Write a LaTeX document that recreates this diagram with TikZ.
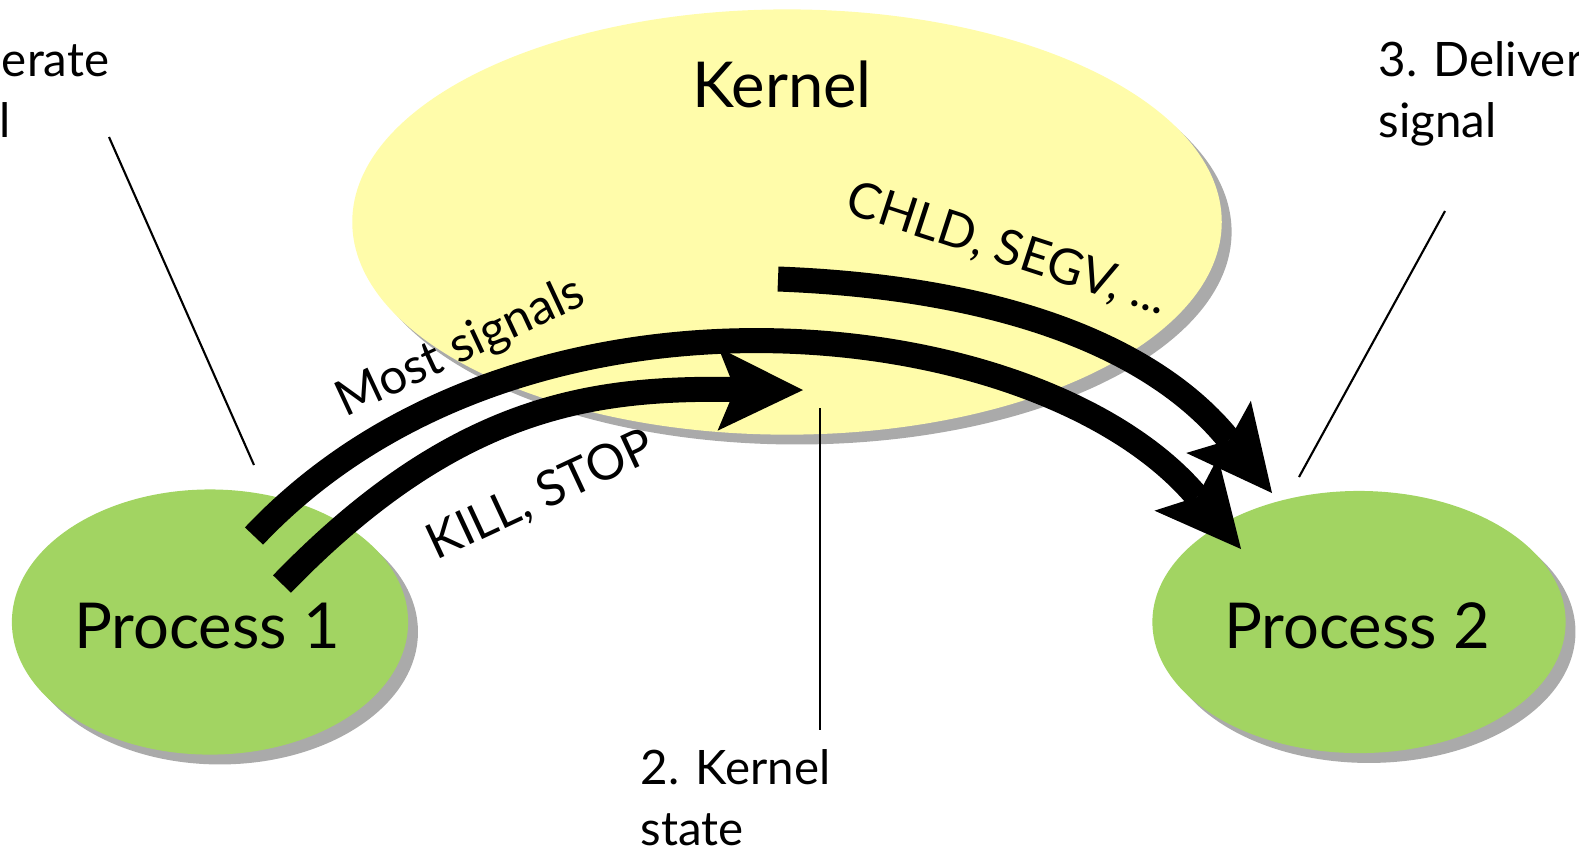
\documentclass[tikz,border=0pt]{standalone}
\usepackage{fontspec}
\setmainfont{Lato}
\usepackage{tikz}
\usetikzlibrary{arrows.meta,shapes.geometric,shadows}
\usepackage{xcolor}

\definecolor{kernelyellow}{RGB}{255,252,170}
\definecolor{procgreen}{RGB}{162,212,98}
\definecolor{shadowgray}{RGB}{170,170,170}

\tikzset{
  blob/.style={ellipse, inner sep=0pt,
    general shadow={fill=shadowgray, shadow xshift=2.8pt, shadow yshift=-2.8pt}},
  bigtext/.style={font=\fontsize{18}{22}\selectfont, inner sep=0pt},
  smalltext/.style={font=\fontsize{13.5}{17.4}\selectfont, inner sep=0pt, align=left},
  edgetext/.style={font=\fontsize{14}{17}\selectfont, inner sep=0pt},
  sigarrow/.style={line width=0.25cm,
    -{Stealth[length=0.85cm, width=0.83cm, inset=0.17cm, line width=0pt]}},
  leader/.style={line width=0.6pt}
}

\begin{document}
\begin{tikzpicture}[x=0.01cm, y=-0.01cm]
  \useasboundingbox (0,0) rectangle (1579,850);
  \clip (0,0) rectangle (1579,850);
  % kernel and the two processes
  \node[blob, fill=kernelyellow, minimum width=8.69cm, minimum height=4.25cm] (kernel) at (787,222) {};
  \node[blob, fill=procgreen, minimum width=3.96cm, minimum height=2.65cm] (proc1) at (210,622) {};
  \node[blob, fill=procgreen, minimum width=4.13cm, minimum height=2.62cm] (proc2) at (1359,622) {};
  \node[bigtext] (kerneltext) at (782,84) {Kernel};
  \node[bigtext] (proc1text) at (207,626) {Process 1};
  \node[bigtext] (proc2text) at (1357,626) {Process 2};

  % signal paths
  \coordinate (mostA) at (254,536);
  \coordinate (mostB) at (1241,549);
  \coordinate (killA) at (282,584);
  \coordinate (killB) at (803,390);
  \coordinate (chldA) at (778,279);
  \coordinate (chldB) at (1272,493);
  \draw[sigarrow] (mostA) .. controls (520,254) and (1040,310) .. (mostB);
  \draw[sigarrow] (killA) .. controls (460,400) and (600,388) .. (killB);
  \draw[sigarrow] (chldA) .. controls (990,287) and (1150,342) .. (chldB);
  \node[edgetext, rotate=25] (most) at (461,348) {Most signals};
  \node[edgetext, rotate=25] (kill) at (541,496) {KILL, STOP};
  \node[edgetext, rotate=-18] (chld) at (1007,250) {CHLD, SEGV, ...};

  % steps
  \node[smalltext, anchor=north west] (gen) at (-108,41) {1.\hspace{-9pt} Generate\\signal};
  \node[smalltext, anchor=north west] (state) at (640,749) {2. Kernel\\state};
  \node[smalltext, anchor=north west] (deliver) at (1378,41) {3. Deliver\\signal};
  \coordinate (genA) at (109,137);
  \coordinate (genB) at (254,465);
  \coordinate (stateA) at (820,408);
  \coordinate (stateB) at (820,730);
  \coordinate (deliverA) at (1445,211);
  \coordinate (deliverB) at (1299,477);
  \draw[leader] (genA) -- (genB);
  \draw[leader] (stateA) -- (stateB);
  \draw[leader] (deliverA) -- (deliverB);
\end{tikzpicture}
\end{document}
